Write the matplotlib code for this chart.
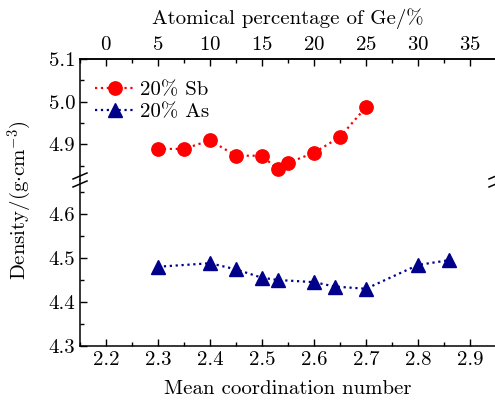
import matplotlib
matplotlib.use("Agg")
import matplotlib.pyplot as plt
from matplotlib.ticker import MultipleLocator

plt.rcParams['font.family'] = 'serif'
plt.rcParams['font.serif'] = ['cmr10']
plt.rcParams['mathtext.fontset'] = 'cm'
plt.rcParams['axes.formatter.use_mathtext'] = True
plt.rcParams['font.size'] = 15

# data
sb_mcn = [2.30, 2.35, 2.40, 2.45, 2.50, 2.53, 2.55, 2.60, 2.65, 2.70]
sb_density = [4.889, 4.889, 4.909, 4.873, 4.873, 4.841, 4.856, 4.880, 4.917, 4.987]

as_mcn = [2.30, 2.40, 2.45, 2.50, 2.53, 2.60, 2.64, 2.70, 2.80, 2.86]
as_density = [4.480, 4.488, 4.474, 4.455, 4.450, 4.445, 4.435, 4.430, 4.484, 4.495]

ge_ticks = [0, 5, 10, 15, 20, 25, 30, 35]

W, H = 495, 401
fig = plt.figure(figsize=(W / 100, H / 100), dpi=100)

left = 80 / W
width = 416 / W
y_top, y_break, y_bot = 59, 180, 346
ax_top = fig.add_axes([left, (H - y_break) / H, width, (y_break - y_top) / H])
ax_bot = fig.add_axes([left, (H - y_bot) / H, width, (y_bot - y_break) / H])

red = '#ff0000'
blue = '#00008b'

ax_top.plot(sb_mcn, sb_density, ':', color=red, lw=1.6, marker='o', ms=9.6,
            label='20% Sb')
ax_top.plot([], [], ':', color=blue, lw=1.6, marker='^', ms=10, label='20% As')
ax_bot.plot(as_mcn, as_density, ':', color=blue, lw=1.6, marker='^', ms=10)

fmt = plt.FuncFormatter(lambda v, p: f'{v:.1f}')
for ax in (ax_top, ax_bot):
    ax.set_xlim(2.15, 2.95)
    ax.xaxis.set_major_locator(MultipleLocator(0.1))
    ax.xaxis.set_minor_locator(MultipleLocator(0.05))
    ax.yaxis.set_major_locator(MultipleLocator(0.1))
    ax.yaxis.set_minor_locator(MultipleLocator(0.05))
    ax.tick_params(which='both', direction='in', width=1, right=False)
    ax.tick_params(which='major', length=5)
    ax.tick_params(which='minor', length=3)
    ax.yaxis.set_major_formatter(fmt)
    for s in ax.spines.values():
        s.set_linewidth(1.1)

ax_top.set_ylim(4.816, 5.1)
ax_bot.set_ylim(4.3, 4.677)
ax_top.spines['bottom'].set_visible(False)
ax_bot.spines['top'].set_visible(False)
ax_top.tick_params(axis='x', which='both', bottom=False, top=False,
                   labelbottom=False)
ax_bot.tick_params(axis='x', which='both', top=False)
ax_bot.xaxis.set_major_formatter(fmt)
ax_bot.set_xlabel('Mean coordination number', labelpad=8)

sec = ax_top.secondary_xaxis('top', functions=(lambda x: (x - 2.2) * 50,
                                                lambda p: p / 50 + 2.2))
sec.set_xticks(ge_ticks)
sec.xaxis.set_minor_locator(MultipleLocator(2.5))
sec.tick_params(which='both', direction='in', width=1)
sec.tick_params(which='major', length=5)
sec.tick_params(which='minor', length=3)
sec.spines['top'].set_linewidth(1.1)
sec.set_xlabel('Atomical percentage of Ge/%', labelpad=9)

fig.text(0.04, (H - 200) / H, r'Density/(g$\cdot$cm$^{-3}$)', rotation=90,
         ha='center', va='center')

# break marks on both sides
for xb in (0.0, 1.0):
    for dy in (-4, 4):
        x0 = (left + width * xb) * W
        yb = y_break + dy
        fig.add_artist(plt.Line2D([(x0 - 7) / W, (x0 + 7) / W],
                                  [(H - yb - 3) / H, (H - yb + 3) / H],
                                  color='black', lw=1.1))

ax_top.legend(loc='upper left', frameon=False, handlelength=2.0,
              handletextpad=0.2, borderaxespad=0.3, labelspacing=0.15,
              bbox_to_anchor=(0.0, 0.94))

fig.savefig('out.png', dpi=100)
